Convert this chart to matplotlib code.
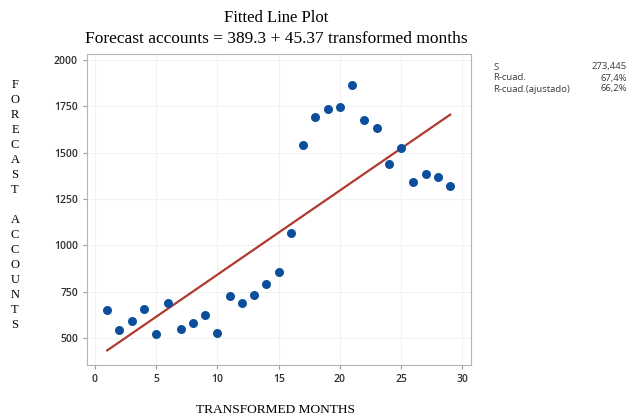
import numpy as np
import matplotlib.pyplot as plt

months = np.arange(1, 30)
accounts = [651, 542, 594, 659, 523, 690, 552, 585, 628, 527,
            729, 690, 733, 794, 857, 1065, 1543, 1690, 1733, 1745,
            1866, 1679, 1632, 1438, 1527, 1343, 1383, 1367, 1319]
intercept = 389.3
slope = 45.37
stat_names = ['S', 'R-cuad.', 'R-cuad.(ajustado)']
stat_values = ['273,445', '67,4%', '66,2%']
x_ticks = [0, 5, 10, 15, 20, 25, 30]
y_ticks = [500, 750, 1000, 1250, 1500, 1750, 2000]

fig = plt.figure(figsize=(6.33, 4.19), dpi=100)
ax = fig.add_axes([87 / 633, 1 - 365 / 419, 384 / 633, 311 / 419])

ax.grid(True, color='#f2f2f2', linewidth=0.8)
ax.set_axisbelow(True)
fit_x = np.array([months[0], months[-1]])
ax.plot(fit_x, intercept + slope * fit_x, color='#b03a2e', linewidth=1.6, zorder=2)
ax.scatter(months, accounts, s=42, color='#0b4f9c', zorder=3, linewidths=0)

ax.set_xlim(-0.65, 30.7)
ax.set_ylim(356, 2032)
ax.set_xticks(x_ticks)
ax.set_yticks(y_ticks)
for s in ax.spines.values():
    s.set_color('#b5b5b5')
ax.tick_params(colors='#9a9a9a', labelcolor='#2e2e2e', labelsize=7.5, length=3)
for lbl in ax.get_xticklabels() + ax.get_yticklabels():
    lbl.set_family('Open Sans')
    lbl.set_fontweight('semibold')

serif = 'Liberation Serif'
fig.text(276 / 633, 1 - 18 / 419, 'Fitted Line Plot', ha='center', va='center',
         family=serif, fontsize=12)
fig.text(276 / 633, 1 - 39 / 419, 'Forecast accounts = 389.3 + 45.37 transformed months',
         ha='center', va='center', family=serif, fontsize=12.5)
fig.text(276 / 633, 1 - 410 / 419, 'TRANSFORMED MONTHS', ha='center', va='center',
         family=serif, fontsize=9.6)
ylab = '\n'.join(list('FORECAST') + [' '] + list('ACCOUNTS'))
fig.text(15 / 633, 1 - 205 / 419, ylab, ha='center', va='center',
         family=serif, fontsize=9, linespacing=1.34)

for i, (n, v) in enumerate(zip(stat_names, stat_values)):
    y = 1 - (67 + i * 11) / 419
    fig.text(493 / 633, y, n, ha='left', va='center', fontsize=6.8, color='#3a3a3a',
             family='Open Sans')
    fig.text(627 / 633, y, v, ha='right', va='center', fontsize=6.8, color='#3a3a3a',
             family='Open Sans')

fig.savefig('out.png', dpi=100)
